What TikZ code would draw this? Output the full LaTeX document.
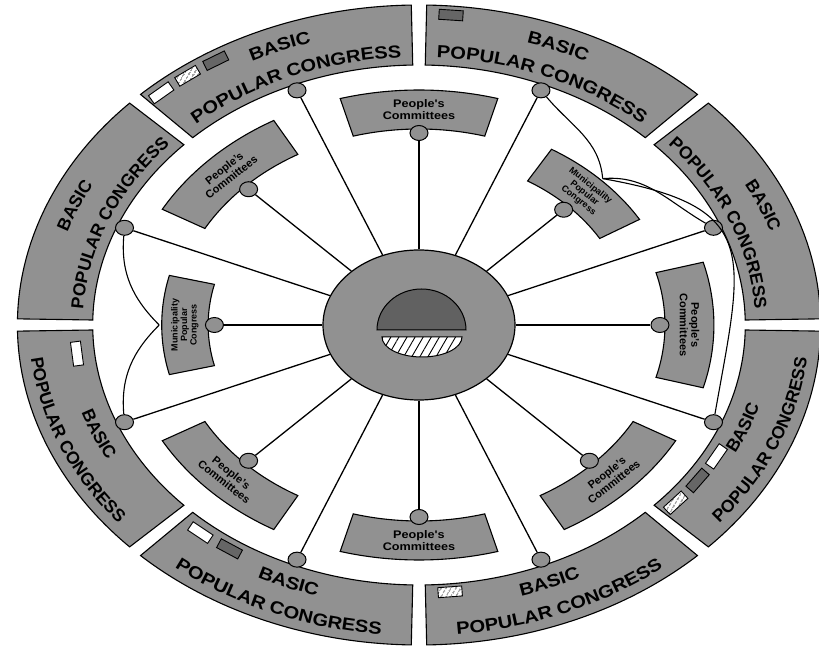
\documentclass[tikz,border=0pt]{standalone}
\usepackage{fontspec}
\setmainfont{Liberation Sans}
\newfontfamily\widefont{Liberation Sans}[FakeStretch=1.15]
\usetikzlibrary{positioning}
\usetikzlibrary{shapes.geometric}
\usetikzlibrary{decorations.text}
\usetikzlibrary{patterns.meta}
\definecolor{bandgray}{gray}{0.57}
\tikzstyle{dot} = [draw, ellipse, fill=bandgray, minimum width=18pt, minimum height=15pt, inner sep=0pt, line width=1pt]
\tikzstyle{hubnode} = [draw, ellipse, fill=bandgray, minimum width=192pt, minimum height=150pt, line width=1.2pt]
\tikzstyle{comtext} = [align=center, font=\fontsize{11}{11.5}\selectfont\bfseries, inner sep=0pt]
\tikzstyle{comwide} = [align=center, font=\widefont\fontsize{11}{11.5}\selectfont\bfseries, inner sep=0pt]
\tikzstyle{munitext} = [align=center, font=\fontsize{9}{9.5}\selectfont\bfseries, inner sep=0pt]
\tikzstyle{spoke} = [line width=1.3pt]
\tikzstyle{link} = [line width=1.1pt]
\tikzstyle{legend} = [draw, rectangle, minimum width=24pt, minimum height=10pt, inner sep=0pt, line width=0.9pt]
\tikzstyle{blank} = [legend, fill=white]
\tikzstyle{dark} = [legend, fill=black!60]
\tikzstyle{hatched} = [legend, fill=white, postaction={pattern={Lines[angle=60, distance=4pt, line width=0.8pt]}}]
\newcommand{\bandfont}{\fontsize{17.5}{17.5}\selectfont\bfseries}
% reading direction on the upper and on the lower half
\pgfmathdeclarefunction{upang}{1}{\pgfmathparse{atan2(-cos(#1),1.255*sin(#1))}}
\pgfmathdeclarefunction{lowang}{1}{\pgfmathparse{atan2(cos(#1),-1.255*sin(#1))}}
% ring piece: from angle, to angle, inner radius, outer radius
\newcommand{\ringpart}[4]{%
  \filldraw[fill=bandgray, line width=1.1pt] (#1:#3) arc[start angle=#1, end angle=#2, radius=#3]
    -- (#2:#4) arc[start angle=#2, end angle=#1, radius=#4] -- cycle;}
% text on an arc: centre angle, radius, font, text
\newcommand{\uptext}[4]{%
  \path[decorate, decoration={text along path, text align=center, text={|#3|#4}}]
    (#1+24:#2) arc[start angle=#1+24, end angle=#1-24, radius=#2];}
\newcommand{\lowtext}[4]{%
  \path[decorate, decoration={text along path, text align=center, text={|#3|#4}}]
    (#1-24:#2) arc[start angle=#1-24, end angle=#1+24, radius=#2];}

\begin{document}
\begin{tikzpicture}[x=1.255pt, y=1pt]
  \useasboundingbox (-419pt,-325pt) rectangle (400pt,325pt);

  \ringpart{1.1}{43.9}{260}{320}
  \ringpart{46.1}{88.9}{260}{320}
  \ringpart{91.1}{133.9}{260}{320}
  \ringpart{136.1}{178.9}{260}{320}
  \ringpart{181.1}{223.9}{260}{320}
  \ringpart{226.1}{268.9}{260}{320}
  \ringpart{271.1}{313.9}{260}{320}
  \ringpart{316.1}{358.9}{260}{320}

  \ringpart{-15.5}{15.5}{196}{235}
  \ringpart{31}{59}{168}{205}
  \ringpart{74.5}{105.5}{196}{235}
  \ringpart{119.5}{150.5}{196}{235}
  \ringpart{166}{194}{168}{205}
  \ringpart{209.5}{240.5}{196}{235}
  \ringpart{254.5}{285.5}{196}{235}
  \ringpart{299.5}{330.5}{196}{235}

  \node[hubnode] (hub) at (0,0) {};
  \filldraw[fill=black!62, line width=1pt] (-42pt,-5pt) arc[start angle=180, end angle=0, x radius=44.5pt, y radius=41pt] -- cycle;
  \filldraw[fill=white, line width=1pt, postaction={pattern={Lines[angle=60, distance=7pt, line width=0.9pt]}}]
    (-37pt,-12pt) arc[start angle=180, end angle=360, x radius=40pt, y radius=20pt] -- cycle;

  \node[dot] (b22) at (22.5:254) {};
  \node[dot] (b67) at (67.5:254) {};
  \node[dot] (b112) at (112.5:254) {};
  \node[dot] (b157) at (157.5:254) {};
  \node[dot] (b202) at (202.5:254) {};
  \node[dot] (b247) at (247.5:254) {};
  \node[dot] (b292) at (292.5:254) {};
  \node[dot] (b337) at (337.5:254) {};
  \node[dot] (pc0) at (0:192) {};
  \node[dot] (mpc45) at (45:163) {};
  \node[dot] (pc90) at (90:192) {};
  \node[dot] (pc135) at (135:192) {};
  \node[dot] (mpc180) at (180:163) {};
  \node[dot] (pc225) at (225:192) {};
  \node[dot] (pc270) at (270:192) {};
  \node[dot] (pc315) at (315:192) {};

  \draw[spoke] (hub) -- (pc0);
  \draw[spoke] (hub) -- (b22);
  \draw[spoke] (hub) -- (mpc45);
  \draw[spoke] (hub) -- (b67);
  \draw[spoke] (hub) -- (pc90);
  \draw[spoke] (hub) -- (b112);
  \draw[spoke] (hub) -- (pc135);
  \draw[spoke] (hub) -- (b157);
  \draw[spoke] (hub) -- (mpc180);
  \draw[spoke] (hub) -- (b202);
  \draw[spoke] (hub) -- (pc225);
  \draw[spoke] (hub) -- (b247);
  \draw[spoke] (hub) -- (pc270);
  \draw[spoke] (hub) -- (b292);
  \draw[spoke] (hub) -- (pc315);
  \draw[spoke] (hub) -- (b337);

  \coordinate (mw) at (180:207);
  \coordinate (mne) at (45:207);
  \draw[link] (b157) to[out=-95, in=135] (mw);
  \draw[link] (b202) to[out=95, in=-135] (mw);
  \draw[link] (b67) to[out=-50, in=95] (mne);
  \draw[link] (mne) to[out=5, in=150] (b22);
  \draw[link] (mne) to[out=-10, in=80, looseness=1.6] (b337);

  \node[comtext, rotate={upang(0)}] (t0) at (0:215.5) {People's\\Committees};
  \node[munitext, rotate={upang(45)}] (t45) at (45:186.5) {Municipality\\Popular\\Congress};
  \node[comwide, rotate={upang(90)}] (t90) at (90:215.5) {People's\\Committees};
  \node[comtext, rotate={upang(135)}] (t135) at (135:215.5) {People's\\Committees};
  \node[munitext, rotate={upang(180)}] (t180) at (180:186.5) {Municipality\\Popular\\Congress};
  \node[comtext, rotate={lowang(225)}] (t225) at (225:215.5) {People's\\Committees};
  \node[comwide, rotate={lowang(270)}] (t270) at (270:215.5) {People's\\Committees};
  \node[comtext, rotate={lowang(315)}] (t315) at (315:215.5) {People's\\Committees};

  \uptext{22.5}{295}{\bandfont}{BASIC}
  \uptext{22.5}{268}{\bandfont}{POPULAR CONGRESS}
  \uptext{67.5}{295}{\widefont\bandfont}{BASIC}
  \uptext{67.5}{268}{\widefont\bandfont}{POPULAR CONGRESS}
  \uptext{112.5}{295}{\widefont\bandfont}{BASIC}
  \uptext{112.5}{268}{\widefont\bandfont}{POPULAR CONGRESS}
  \uptext{157.5}{295}{\bandfont}{BASIC}
  \uptext{157.5}{268}{\bandfont}{POPULAR CONGRESS}
  \lowtext{202.5}{283}{\bandfont}{BASIC}
  \lowtext{202.5}{311}{\bandfont}{POPULAR CONGRESS}
  \lowtext{247.5}{283}{\widefont\bandfont}{BASIC}
  \lowtext{247.5}{311}{\widefont\bandfont}{POPULAR CONGRESS}
  \lowtext{292.5}{283}{\widefont\bandfont}{BASIC}
  \lowtext{292.5}{311}{\widefont\bandfont}{POPULAR CONGRESS}
  \lowtext{339}{283}{\bandfont}{BASIC}
  \lowtext{337.5}{311}{\bandfont}{POPULAR CONGRESS}

  \node[blank, rotate={upang(131.5)}] (k1) at (131.5:310) {};
  \node[hatched, rotate={upang(126.5)}] (k2) at (126.5:310) {};
  \node[dark, rotate={upang(121.5)}] (k3) at (121.5:310) {};
  \node[dark, rotate={upang(85.3)}] (k4) at (85.3:311) {};
  \node[blank, rotate={upang(186)}] (k5) at (186:274) {};
  \node[blank, rotate={upang(230)}] (k6) at (230:271) {};
  \node[dark, rotate={upang(236)}] (k7) at (236:270) {};
  \node[hatched, rotate={upang(275.3)}] (k8) at (275.3:268) {};
  \node[hatched, rotate={upang(319)}] (k9) at (319:271) {};
  \node[dark, rotate={upang(325)}] (k10) at (325:271) {};
  \node[blank, rotate={upang(331)}] (k11) at (331:271) {};
\end{tikzpicture}
\end{document}
